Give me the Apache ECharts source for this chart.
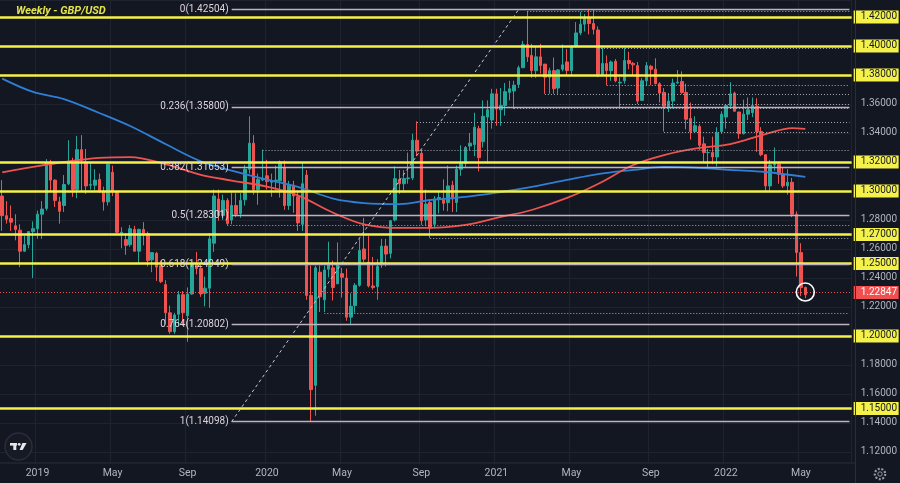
<!DOCTYPE html>
<html><head><meta charset="utf-8">
<script src="https://cdn.jsdelivr.net/npm/echarts@6/dist/echarts.min.js"></script>
<style>html,body{margin:0;padding:0;background:#131722;}#c{width:900px;height:483px;}</style>
</head><body><div id="c"></div>
<script>
// Weekly candles: [week, open, high, low, close]
const candles = [
['2018-11-12',1.2965,1.3075,1.2725,1.2830],['2018-11-19',1.2830,1.2930,1.2775,1.2805],
['2018-11-26',1.2810,1.2900,1.2725,1.2785],['2018-12-03',1.2760,1.2840,1.2660,1.2735],['2018-12-10',1.2730,1.2770,1.2475,1.2585],
['2018-12-17',1.2585,1.2690,1.2580,1.2630],['2018-12-24',1.2630,1.2720,1.2605,1.2720],['2018-12-31',1.2720,1.2790,1.2400,1.2740],
['2019-01-07',1.2740,1.2865,1.2670,1.2840],['2019-01-14',1.2840,1.2930,1.2670,1.2875],['2019-01-21',1.2880,1.3220,1.2865,1.3195],
['2019-01-28',1.3190,1.3215,1.3000,1.3075],['2019-02-04',1.3075,1.3080,1.2890,1.2935],['2019-02-11',1.2925,1.2960,1.2775,1.2860],
['2019-02-18',1.2900,1.3110,1.2855,1.3045],['2019-02-25',1.3050,1.3350,1.3040,1.3195],['2019-03-04',1.3190,1.3230,1.2960,1.3010],
['2019-03-11',1.3010,1.3380,1.2950,1.3285],['2019-03-18',1.3285,1.3385,1.3000,1.3210],['2019-03-25',1.3200,1.3290,1.2980,1.3035],
['2019-04-01',1.3040,1.3195,1.3010,1.3045],['2019-04-08',1.3040,1.3150,1.3005,1.3075],['2019-04-15',1.3080,1.3120,1.2990,1.2995],
['2019-04-22',1.3000,1.3030,1.2865,1.2925],['2019-04-29',1.2925,1.3195,1.2900,1.3185],['2019-05-06',1.3130,1.3175,1.2965,1.2995],
['2019-05-13',1.2990,1.3000,1.2710,1.2715],['2019-05-20',1.2710,1.2750,1.2605,1.2715],['2019-05-27',1.2665,1.2710,1.2560,1.2625],
['2019-06-03',1.2630,1.2765,1.2615,1.2740],['2019-06-10',1.2735,1.2760,1.2590,1.2585],['2019-06-17',1.2585,1.2740,1.2505,1.2735],
['2019-06-24',1.2735,1.2785,1.2625,1.2695],['2019-07-01',1.2705,1.2720,1.2480,1.2520],['2019-07-08',1.2525,1.2580,1.2440,1.2575],
['2019-07-15',1.2570,1.2580,1.2380,1.2475],['2019-07-22',1.2485,1.2520,1.2365,1.2375],['2019-07-29',1.2355,1.2385,1.2080,1.2160],
['2019-08-05',1.2160,1.2210,1.2015,1.2030],['2019-08-12',1.2030,1.2160,1.2015,1.2145],['2019-08-19',1.2150,1.2310,1.2070,1.2285],
['2019-08-26',1.2285,1.2310,1.2070,1.2160],['2019-09-02',1.2140,1.2335,1.1960,1.2290],['2019-09-09',1.2290,1.2505,1.2285,1.2500],
['2019-09-16',1.2500,1.2580,1.2425,1.2465],['2019-09-23',1.2465,1.2490,1.2270,1.2290],['2019-09-30',1.2295,1.2410,1.2205,1.2330],
['2019-10-07',1.2330,1.2710,1.2195,1.2670],['2019-10-14',1.2640,1.3010,1.2580,1.2965],['2019-10-21',1.2945,1.3010,1.2795,1.2830],
['2019-10-28',1.2830,1.2975,1.2800,1.2935],['2019-11-04',1.2935,1.2950,1.2765,1.2775],['2019-11-11',1.2800,1.2990,1.2770,1.2900],
['2019-11-18',1.2900,1.2985,1.2820,1.2840],['2019-11-25',1.2845,1.2985,1.2815,1.2935],['2019-12-02',1.2940,1.3180,1.2900,1.3150],
['2019-12-09',1.3150,1.3515,1.3120,1.3330],['2019-12-16',1.3330,1.3385,1.2975,1.3010],['2019-12-23',1.3010,1.3120,1.2905,1.3080],
['2019-12-30',1.3075,1.3285,1.3070,1.3080],['2020-01-06',1.3105,1.3215,1.3010,1.3065],['2020-01-13',1.3060,1.3120,1.2960,1.3070],
['2020-01-20',1.3070,1.3175,1.3005,1.3075],['2020-01-27',1.3070,1.3210,1.2955,1.3200],['2020-02-03',1.3160,1.3210,1.2870,1.2900],
['2020-02-10',1.2900,1.3070,1.2870,1.3045],['2020-02-17',1.3040,1.3070,1.2850,1.2965],['2020-02-24',1.2960,1.3000,1.2725,1.2780],
['2020-03-02',1.2770,1.3200,1.2725,1.3050],['2020-03-09',1.3110,1.3145,1.2250,1.2280],['2020-03-16',1.2280,1.2485,1.1410,1.1630],
['2020-03-23',1.1660,1.2485,1.1450,1.2470],['2020-03-30',1.2440,1.2485,1.2165,1.2270],['2020-04-06',1.2250,1.2485,1.2165,1.2455],
['2020-04-13',1.2460,1.2650,1.2405,1.2500],['2020-04-20',1.2470,1.2520,1.2245,1.2335],['2020-04-27',1.2360,1.2645,1.2360,1.2490],
['2020-05-04',1.2430,1.2470,1.2265,1.2405],['2020-05-11',1.2400,1.2465,1.2105,1.2130],['2020-05-18',1.2130,1.2295,1.2075,1.2205],
['2020-05-25',1.2210,1.2365,1.2160,1.2350],['2020-06-01',1.2350,1.2670,1.2340,1.2590],['2020-06-08',1.2600,1.2815,1.2510,1.2530],
['2020-06-15',1.2510,1.2690,1.2335,1.2345],['2020-06-22',1.2345,1.2545,1.2320,1.2335],['2020-06-29',1.2340,1.2530,1.2250,1.2480],
['2020-07-06',1.2490,1.2670,1.2470,1.2620],['2020-07-13',1.2620,1.2670,1.2480,1.2565],['2020-07-20',1.2570,1.2800,1.2535,1.2795],
['2020-07-27',1.2800,1.3170,1.2790,1.3085],['2020-08-03',1.3080,1.3145,1.2980,1.3050],['2020-08-10',1.3050,1.3145,1.2990,1.3085],
['2020-08-17',1.3085,1.3265,1.3050,1.3090],['2020-08-24',1.3090,1.3395,1.3075,1.3350],['2020-08-31',1.3350,1.3480,1.3240,1.3275],
['2020-09-07',1.3260,1.3285,1.2765,1.2795],['2020-09-14',1.2800,1.3010,1.2760,1.2910],['2020-09-21',1.2920,1.2935,1.2675,1.2745],
['2020-09-28',1.2770,1.2965,1.2750,1.2945],['2020-10-05',1.2945,1.3000,1.2845,1.2955],['2020-10-12',1.2950,1.3080,1.2865,1.2915],
['2020-10-19',1.2920,1.3175,1.2860,1.3035],['2020-10-26',1.3040,1.3070,1.2855,1.2945],['2020-11-02',1.2920,1.3175,1.2855,1.3150],
['2020-11-09',1.3150,1.3315,1.3105,1.3190],['2020-11-16',1.3190,1.3310,1.3160,1.3300],['2020-11-23',1.3310,1.3400,1.3280,1.3330],
['2020-11-30',1.3320,1.3540,1.3240,1.3440],['2020-12-07',1.3430,1.3450,1.3135,1.3230],['2020-12-14',1.3340,1.3625,1.3300,1.3515],
['2020-12-21',1.3510,1.3625,1.3190,1.3560],['2020-12-28',1.3490,1.3705,1.3430,1.3670],['2021-01-04',1.3670,1.3705,1.3450,1.3565],
['2021-01-11',1.3560,1.3710,1.3450,1.3590],['2021-01-18',1.3590,1.3745,1.3520,1.3685],['2021-01-25',1.3680,1.3760,1.3625,1.3705],
['2021-02-01',1.3690,1.3760,1.3565,1.3730],['2021-02-08',1.3735,1.3865,1.3710,1.3850],['2021-02-15',1.3850,1.4035,1.3850,1.4010],
['2021-02-22',1.4010,1.4240,1.3890,1.3925],['2021-03-01',1.3935,1.4015,1.3780,1.3830],['2021-03-08',1.3830,1.4000,1.3780,1.3925],
['2021-03-15',1.3925,1.4015,1.3810,1.3865],['2021-03-22',1.3875,1.3875,1.3670,1.3785],['2021-03-29',1.3785,1.3850,1.3670,1.3830],
['2021-04-05',1.3830,1.3920,1.3670,1.3705],['2021-04-12',1.3710,1.3840,1.3670,1.3835],['2021-04-19',1.3840,1.4010,1.3825,1.3870],
['2021-04-26',1.3890,1.3980,1.3800,1.3830],['2021-05-03',1.3830,1.4005,1.3800,1.3995],['2021-05-10',1.4000,1.4165,1.3990,1.4090],
['2021-05-17',1.4090,1.4235,1.4075,1.4150],['2021-05-24',1.4150,1.4220,1.4100,1.4190],['2021-05-31',1.4190,1.4250,1.4080,1.4155],
['2021-06-07',1.4155,1.4250,1.4080,1.4115],['2021-06-14',1.4110,1.4135,1.3785,1.3805],['2021-06-21',1.3800,1.3990,1.3800,1.3880],
['2021-06-28',1.3880,1.3935,1.3730,1.3830],['2021-07-05',1.3830,1.3900,1.3760,1.3890],['2021-07-12',1.3895,1.3910,1.3750,1.3760],
['2021-07-19',1.3745,1.3785,1.3570,1.3750],['2021-07-26',1.3760,1.3985,1.3740,1.3900],['2021-08-02',1.3900,1.3960,1.3840,1.3880],
['2021-08-09',1.3880,1.3890,1.3800,1.3870],['2021-08-16',1.3865,1.3890,1.3600,1.3620],['2021-08-23',1.3625,1.3780,1.3620,1.3760],
['2021-08-30',1.3760,1.3890,1.3725,1.3865],['2021-09-06',1.3860,1.3870,1.3730,1.3840],['2021-09-13',1.3840,1.3915,1.3735,1.3740],
['2021-09-20',1.3740,1.3750,1.3610,1.3675],['2021-09-27',1.3680,1.3710,1.3410,1.3585],['2021-10-04',1.3575,1.3675,1.3545,1.3620],
['2021-10-11',1.3620,1.3775,1.3570,1.3745],['2021-10-18',1.3745,1.3835,1.3740,1.3750],['2021-10-25',1.3755,1.3825,1.3670,1.3680],
['2021-11-01',1.3680,1.3740,1.3425,1.3495],['2021-11-08',1.3500,1.3610,1.3355,1.3410],['2021-11-15',1.3410,1.3515,1.3400,1.3450],
['2021-11-22',1.3445,1.3460,1.3280,1.3315],['2021-11-29',1.3325,1.3375,1.3195,1.3265],['2021-12-06',1.3265,1.3290,1.3165,1.3265],
['2021-12-13',1.3265,1.3375,1.3185,1.3235],['2021-12-20',1.3235,1.3440,1.3170,1.3400],['2021-12-27',1.3410,1.3550,1.3395,1.3530],
['2022-01-03',1.3510,1.3600,1.3430,1.3590],['2022-01-10',1.3590,1.3750,1.3570,1.3670],['2022-01-17',1.3675,1.3685,1.3550,1.3550],
['2022-01-24',1.3545,1.3545,1.3360,1.3395],['2022-01-31',1.3395,1.3630,1.3390,1.3530],['2022-02-07',1.3530,1.3645,1.3490,1.3560],
['2022-02-14',1.3540,1.3645,1.3510,1.3590],['2022-02-21',1.3585,1.3640,1.3270,1.3410],['2022-02-28',1.3410,1.3440,1.3240,1.3250],
['2022-03-07',1.3250,1.3240,1.3000,1.3035],['2022-03-14',1.3035,1.3215,1.3000,1.3180],['2022-03-21',1.3180,1.3300,1.3140,1.3185],
['2022-03-28',1.3185,1.3200,1.3050,1.3115],['2022-04-04',1.3115,1.3165,1.3020,1.3035],['2022-04-11',1.3035,1.3150,1.2975,1.3060],
['2022-04-18',1.3060,1.3090,1.2820,1.2840],['2022-04-25',1.2840,1.2860,1.2410,1.2575],['2022-05-02',1.2575,1.2640,1.2275,1.2335],
['2022-05-09',1.2335,1.2340,1.2260,1.22847]
];
const futureWeeks = ['2022-05-16','2022-05-23','2022-05-30','2022-06-06','2022-06-13','2022-06-20','2022-06-27','2022-07-04','2022-07-11','2022-07-18'];

// moving averages: [week, value]
const maBlue = [
['2018-11-12',1.3775],['2018-12-31',1.3683],['2019-02-18',1.3634],['2019-04-15',1.3538],['2019-06-03',1.3448],
['2019-07-29',1.3324],['2019-09-23',1.3205],['2019-11-11',1.3140],['2020-01-06',1.3078],['2020-02-24',1.3028],
['2020-04-20',1.2948],['2020-06-08',1.2917],['2020-08-03',1.2910],['2020-09-21',1.2938],['2020-11-16',1.2959],
['2021-01-11',1.2993],['2021-03-01',1.3028],['2021-04-26',1.3076],['2021-06-14',1.3117],['2021-08-09',1.3145],
['2021-09-27',1.3166],['2021-11-22',1.3159],['2022-01-10',1.3145],['2022-03-07',1.3131],['2022-05-09',1.3097]
];
const maRed = [
['2018-11-12',1.3128],['2018-12-31',1.3166],['2019-02-18',1.3200],['2019-04-15',1.3228],['2019-06-03',1.3234],
['2019-07-29',1.3185],['2019-09-23',1.3112],['2019-11-11',1.3072],['2020-01-06',1.3030],['2020-02-24',1.2970],
['2020-04-20',1.2850],['2020-06-08',1.2770],['2020-08-03',1.2745],['2020-09-21',1.2745],['2020-11-16',1.2766],
['2021-01-11',1.2821],['2021-03-01',1.2869],['2021-04-26',1.2952],['2021-06-14',1.3048],['2021-08-09',1.3179],
['2021-09-27',1.3248],['2021-11-22',1.3297],['2022-01-10',1.3324],['2022-03-07',1.3393],['2022-04-18',1.3434],['2022-05-09',1.3428]
];

const keyLevels = [1.42, 1.40, 1.38, 1.32, 1.30, 1.27, 1.25, 1.20, 1.15];
const fibStartWeek = '2019-11-11';
const fibEndWeek = '2021-02-08';
const fibLevels = [['0',1.42504],['0.236',1.35800],['0.382',1.31653],['0.5',1.28301],['0.618',1.24949],['0.764',1.20802],['1',1.14098]];
const rayLevels = [
['2021-02-22',1.4238],['2021-06-14',1.3986],['2021-06-28',1.3731],['2021-03-22',1.3669],['2021-07-19',1.3600],
['2021-02-01',1.3572],['2020-08-31',1.3476],['2021-09-27',1.3407],['2019-12-30',1.3278],['2019-11-04',1.2762],
['2020-09-21',1.2676],['2020-04-06',1.2159]
];
const lastPrice = 1.22847;
const circleLevel = 1.2303;
const priceMin = 1.10, priceMax = 1.43172, priceStep = 0.02;

const weeks = candles.map(r => r[0]);
const allWeeks = weeks.concat(futureWeeks);
const lastWeek = weeks[weeks.length - 1];
const edgeWeek = allWeeks[allWeeks.length - 1];
const ohlc = candles.map(r => [r[1], r[4], r[3], r[2]]);

const monthNames = ['Jan','Feb','Mar','Apr','May','Jun','Jul','Aug','Sep','Oct','Nov','Dec'];
function isLabelWeek(idx, val) {
  const d = new Date(val + 'T00:00:00Z');
  const m = d.getUTCMonth();
  return d.getUTCDate() <= 7 && (m === 0 || m === 4 || m === 8);
}
function fmtWeek(val) {
  const d = new Date(val + 'T00:00:00Z');
  const m = d.getUTCMonth();
  return m === 0 ? String(d.getUTCFullYear()) : monthNames[m];
}
const isKey = v => keyLevels.some(k => Math.abs(k - v) < 1e-6);
const isStep = v => Math.abs(v / priceStep - Math.round(v / priceStep)) < 1e-6;

const YELLOW = '#f4f24a';
const FIB = '#bdb3be';
const FONT = 'Roboto, "Liberation Sans", Arial, sans-serif';

const markLines = [];
keyLevels.forEach(v => markLines.push({
  yAxis: v,
  lineStyle: {color: YELLOW, width: 2.5, type: 'solid'},
  label: {show: true, position: 'end', distance: 2, formatter: v.toFixed(5), backgroundColor: YELLOW,
    color: '#131722', fontSize: 10, fontFamily: FONT, padding: [2, 4, 1, 7], width: 34}
}));
fibLevels.forEach(([r, v]) => markLines.push([
  {coord: [fibStartWeek, v], lineStyle: {color: FIB, width: 1.3, type: 'solid'},
   label: {show: true, position: 'start', distance: 3, formatter: r + '(' + v.toFixed(5) + ')',
     color: '#ddd4dd', fontSize: 10, fontFamily: FONT}},
  {coord: [edgeWeek, v]}
]));
rayLevels.forEach(([w, v]) => markLines.push([
  {coord: [w, v], lineStyle: {color: '#a7a9b0', width: 1, type: [1, 2]}, label: {show: false}},
  {coord: [edgeWeek, v]}
]));
markLines.push([
  {coord: [fibStartWeek, fibLevels[6][1]], lineStyle: {color: '#c9c9cf', width: 1, type: [3, 3]}, label: {show: false}},
  {coord: [fibEndWeek, fibLevels[0][1]]}
]);
markLines.push({
  yAxis: lastPrice,
  lineStyle: {color: '#ef5350', width: 1, type: [1, 2]},
  label: {show: true, position: 'end', distance: 2, formatter: lastPrice.toFixed(5), backgroundColor: '#f0504f',
    color: '#ffffff', fontSize: 10, fontFamily: FONT, padding: [2, 4, 1, 7], width: 34}
});

const chart = echarts.init(document.getElementById('c'), null, {renderer: 'canvas'});
chart.setOption({
  backgroundColor: '#131722',
  animation: false,
  title: {text: 'Weekly - GBP/USD', left: 11, top: 1,
    textStyle: {color: '#e3e34c', fontSize: 11, fontStyle: 'italic', fontWeight: 'bold', fontFamily: FONT}},
  grid: {left: 0, right: 45, top: 0, bottom: 2, containLabel: false},
  xAxis: [{
    type: 'category', data: allWeeks, boundaryGap: true,
    axisLine: {show: false}, axisTick: {show: false}, axisLabel: {show: false},
    splitLine: {show: true, interval: isLabelWeek, lineStyle: {color: '#1f2330', width: 1}}
  }, {
    type: 'category', data: allWeeks, boundaryGap: true, position: 'bottom', z: 60,
    axisLine: {show: false}, axisTick: {show: false}, splitLine: {show: false},
    axisLabel: {interval: isLabelWeek, formatter: fmtWeek, margin: -13, color: '#b2b5be', fontSize: 10.5, fontFamily: FONT}
  }],
  yAxis: {
    type: 'value', position: 'right', min: priceMin, max: priceMax, interval: priceStep,
    axisLine: {show: false}, axisTick: {show: false},
    splitLine: {lineStyle: {color: '#1f2330', width: 1}},
    axisLabel: {margin: 9, color: '#b2b5be', fontSize: 10, fontFamily: FONT, showMaxLabel: false,
      formatter: v => (v < 1.11 || v > 1.425 || !isStep(v) || isKey(v)) ? '' : v.toFixed(5)}
  },
  graphic: [
    {type: 'rect', z: 50, shape: {x: 0, y: 463, width: 856, height: 20}, style: {fill: '#131722'}, silent: true},
    {type: 'line', z: 51, shape: {x1: 0, y1: 463, x2: 856, y2: 463}, style: {stroke: '#2a2e39', lineWidth: 1}, silent: true},
    {type: 'line', z: 51, shape: {x1: 855.5, y1: 0, x2: 855.5, y2: 483}, style: {stroke: '#2a2e39', lineWidth: 1}, silent: true},
    {type: 'circle', z: 52, shape: {cx: 18.5, cy: 446.5, r: 13.5}, style: {fill: '#161a25', stroke: '#2a2e39', lineWidth: 1.5}, silent: true},
    {type: 'rect', z: 53, shape: {x: 10, y: 443, width: 7, height: 2.6}, style: {fill: '#e8e8ea'}, silent: true},
    {type: 'rect', z: 53, shape: {x: 13.3, y: 443, width: 3, height: 7}, style: {fill: '#e8e8ea'}, silent: true},
    {type: 'circle', z: 53, shape: {cx: 19.2, cy: 444.3, r: 1.4}, style: {fill: '#e8e8ea'}, silent: true},
    {type: 'polygon', z: 53, shape: {points: [[22.4, 443], [26.6, 443], [22.6, 450], [19.6, 450]]}, style: {fill: '#e8e8ea'}, silent: true},
    {type: 'circle', z: 52, shape: {cx: 880, cy: 474, r: 5.2}, style: {fill: 'none', stroke: '#9598a1', lineWidth: 2.2, lineDash: [2, 1.6]}, silent: true},
    {type: 'circle', z: 52, shape: {cx: 880, cy: 474, r: 2.2}, style: {fill: 'none', stroke: '#9598a1', lineWidth: 1}, silent: true}
  ],
  series: [{
    name: 'GBP/USD', type: 'candlestick', data: ohlc, barWidth: 3, xAxisIndex: 0,
    itemStyle: {color: '#26a69a', color0: '#ef5350', borderColor: '#26a69a', borderColor0: '#ef5350', borderWidth: 1},
    markLine: {silent: true, symbol: ['none', 'none'], animation: false, data: markLines},
    markPoint: {silent: true, animation: false, data: [{
      coord: [lastWeek, circleLevel], symbol: 'circle', symbolSize: 18,
      itemStyle: {color: 'rgba(0,0,0,0)', borderColor: '#ffffff', borderWidth: 1.6}, label: {show: false}
    }]}
  }, {
    name: 'MA blue', type: 'line', data: maBlue, showSymbol: false, smooth: 0.35, xAxisIndex: 0,
    lineStyle: {color: '#2f7fd6', width: 1.8}
  }, {
    name: 'MA red', type: 'line', data: maRed, showSymbol: false, smooth: 0.35, xAxisIndex: 0,
    lineStyle: {color: '#ef5350', width: 1.8}
  }]
});
</script></body></html>
